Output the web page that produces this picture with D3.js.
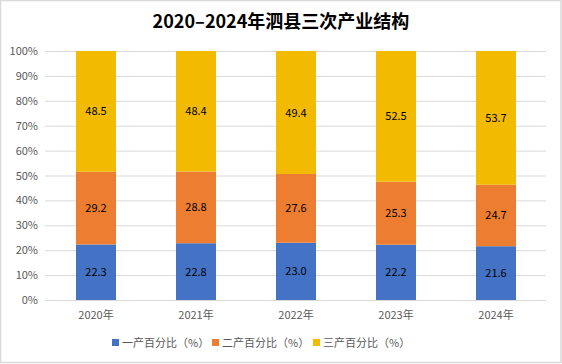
<!DOCTYPE html>
<html><head><meta charset="utf-8">
<script src="https://cdn.jsdelivr.net/npm/d3@7"></script>
<style>body{margin:0;background:#fff}svg{display:block}</style>
</head><body>
<script>
const categories = ["2020年","2021年","2022年","2023年","2024年"];
const seriesNames = ["一产百分比（%）","二产百分比（%）","三产百分比（%）"];
const primary = [22.3, 22.8, 23.0, 22.2, 21.6];
const secondary = [29.2, 28.8, 27.6, 25.3, 24.7];
const tertiary = [48.5, 48.4, 49.4, 52.5, 53.7];
const yTicks = [0,10,20,30,40,50,60,70,80,90,100];
const colors = ["#4472C4","#ED7D31","#F2BA00"];
const title = "2020–2024年泗县三次产业结构";

const W=562,H=364;
const svg=d3.select("body").append("svg").attr("width",W).attr("height",H);
svg.append("rect").attr("x",0.5).attr("y",0.5).attr("width",W-1.5).attr("height",H-2).attr("fill","#fff").attr("stroke","#d9d9d9").attr("stroke-width",1.5);
const font="'Microsoft YaHei','Noto Sans CJK SC','DejaVu Sans',sans-serif";
svg.append("text").attr("x",W/2).attr("y",28).attr("text-anchor","middle").attr("font-family",font)
  .attr("font-weight","bold").attr("font-size",18).attr("fill","#000").text(title);

const x=d3.scaleBand().domain(categories).range([46,546]).paddingInner(0.6).paddingOuter(0.3);
const y=d3.scaleLinear().domain([0,100]).range([300,51]);

const g=svg.append("g");
g.selectAll("line.grid").data(yTicks).join("line").attr("class","grid")
  .attr("x1",45).attr("x2",546).attr("y1",d=>y(d)+0.5).attr("y2",d=>y(d)+0.5)
  .attr("stroke","#d9d9d9").attr("stroke-width",1);

const yAxis=d3.axisLeft(y).tickValues(yTicks).tickFormat(d=>d+"%").tickSize(0).tickPadding(5);
const ya=svg.append("g").attr("transform","translate(43,0)").call(yAxis);
ya.select(".domain").remove();
ya.selectAll("text").attr("font-family",font).attr("font-size",11).attr("fill","#595959");

const rows=categories.map((c,i)=>({cat:c,s0:primary[i],s1:secondary[i],s2:tertiary[i]}));
const stack=d3.stack().keys(["s0","s1","s2"])(rows);
stack.forEach((layer,li)=>{
  const lg=svg.append("g");
  lg.selectAll("rect").data(layer).join("rect")
    .attr("x",d=>x(d.data.cat)).attr("width",x.bandwidth())
    .attr("y",d=>y(d[1])).attr("height",d=>y(d[0])-y(d[1])).attr("fill",colors[li]);
  lg.selectAll("text").data(layer).join("text")
    .attr("x",d=>x(d.data.cat)+x.bandwidth()/2).attr("y",d=>(y(d[0])+y(d[1]))/2+4)
    .attr("text-anchor","middle").attr("font-family",font).attr("font-size",11).attr("fill","#000")
    .text(d=>(d[1]-d[0]).toFixed(1));
});

const xAxis=d3.axisBottom(x).tickSize(0).tickPadding(11);
const xa=svg.append("g").attr("transform","translate(0,300)").call(xAxis);
xa.select(".domain").attr("d","M45,0.5H546").attr("stroke","#d9d9d9");
xa.selectAll("text").attr("font-family",font).attr("font-size",11).attr("fill","#595959");

const legX=[112,212,313];
const lg=svg.append("g");
seriesNames.forEach((n,i)=>{
  lg.append("rect").attr("x",legX[i]).attr("y",339).attr("width",7).attr("height",7).attr("fill",colors[i]);
  lg.append("text").attr("x",legX[i]+10).attr("y",347).attr("font-family",font).attr("font-size",11).attr("fill","#595959").text(n);
});
</script>
</body></html>
